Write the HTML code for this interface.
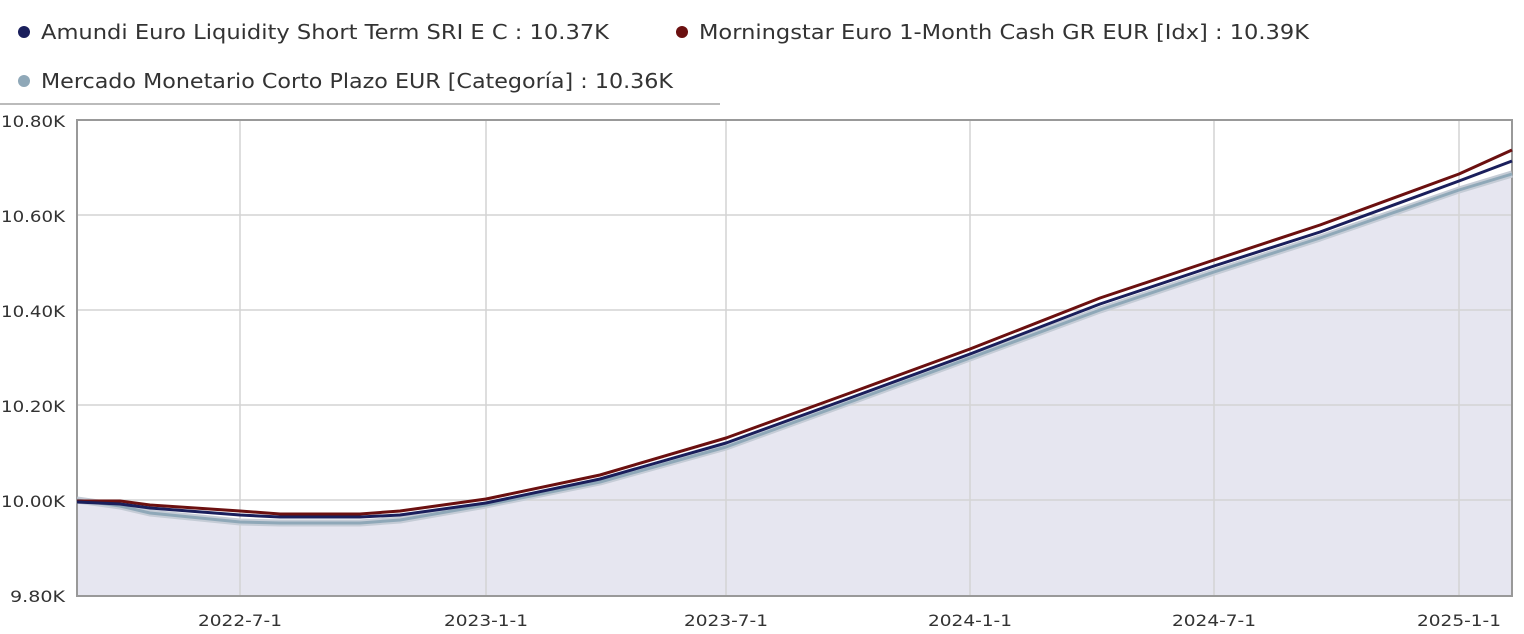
<!DOCTYPE html>
<html><head><meta charset="utf-8"><style>
body{margin:0;background:#fff;width:1524px;height:629px;overflow:hidden;font-family:"Liberation Sans","DejaVu Sans",sans-serif}
svg text{font-family:"DejaVu Sans","Liberation Sans",sans-serif;fill:#333}
</style></head><body>
<svg width="1524" height="629" viewBox="0 0 1524 629">
<g font-size="20">
<circle cx="24" cy="32" r="6" fill="#1a1f5c"/><text x="41" y="39" textLength="568" lengthAdjust="spacingAndGlyphs">Amundi Euro Liquidity Short Term SRI E C : 10.37K</text>
<circle cx="682" cy="32" r="6" fill="#6b1010"/><text x="699" y="39" textLength="610" lengthAdjust="spacingAndGlyphs">Morningstar Euro 1-Month Cash GR EUR [Idx] : 10.39K</text>
<circle cx="24" cy="81" r="6" fill="#8fa8b8"/><text x="41" y="88" textLength="632" lengthAdjust="spacingAndGlyphs">Mercado Monetario Corto Plazo EUR [Categoría] : 10.36K</text>
</g>
<line x1="0" y1="104" x2="720" y2="104" stroke="#bbb" stroke-width="2"/>
<path d="M77,500 L120,506 L150,513 L240,522 L280,523 L360,523 L400,520 L486,505 L600,482 L726,447 L850,402 L970,358 L1100,310 L1214,272 L1320,238 L1459,190 L1512,174 L1512,596 L77,596Z" fill="#e6e6f0"/>
<g stroke="#d4d4d4" stroke-width="1.5">
<line x1="77" y1="215" x2="1512" y2="215"/><line x1="77" y1="310" x2="1512" y2="310"/><line x1="77" y1="405" x2="1512" y2="405"/><line x1="77" y1="500" x2="1512" y2="500"/>
<line x1="240" y1="120" x2="240" y2="596"/><line x1="486" y1="120" x2="486" y2="596"/><line x1="726" y1="120" x2="726" y2="596"/><line x1="970" y1="120" x2="970" y2="596"/><line x1="1214" y1="120" x2="1214" y2="596"/><line x1="1459" y1="120" x2="1459" y2="596"/>
</g>
<rect x="77" y="120" width="1435" height="476" fill="none" stroke="#999" stroke-width="2"/>
<g fill="none" stroke-linejoin="round">
<path d="M77,500 L120,506 L150,513 L240,522 L280,523 L360,523 L400,520 L486,505 L600,482 L726,447 L850,402 L970,358 L1100,310 L1214,272 L1320,238 L1459,190 L1512,174" stroke="#c5ccd6" stroke-width="7"/>
<path d="M77,500 L120,506 L150,513 L240,522 L280,523 L360,523 L400,520 L486,505 L600,482 L726,447 L850,402 L970,358 L1100,310 L1214,272 L1320,238 L1459,190 L1512,174" stroke="#8fa8b8" stroke-width="3"/>
<path d="M77,501 L120,501 L150,505 L240,511 L280,514 L360,514 L400,511 L486,499 L600,475 L726,438 L850,393 L970,349 L1100,298 L1214,260 L1320,225 L1459,174 L1512,150" stroke="#6b1010" stroke-width="3"/>
<path d="M77,502 L120,504 L150,508 L240,515 L280,517 L360,517 L400,515 L486,503 L600,479 L726,443 L850,398 L970,354 L1100,304 L1214,266 L1320,232 L1459,181 L1512,161" stroke="#1a1f5c" stroke-width="3"/>
</g>
<g font-size="16" text-anchor="end">
<text x="65" y="127" textLength="64" lengthAdjust="spacingAndGlyphs">10.80K</text><text x="65" y="222" textLength="64" lengthAdjust="spacingAndGlyphs">10.60K</text><text x="65" y="317" textLength="64" lengthAdjust="spacingAndGlyphs">10.40K</text><text x="65" y="412" textLength="64" lengthAdjust="spacingAndGlyphs">10.20K</text><text x="65" y="507" textLength="64" lengthAdjust="spacingAndGlyphs">10.00K</text><text x="65" y="602" textLength="55" lengthAdjust="spacingAndGlyphs">9.80K</text>
</g>
<g font-size="16" text-anchor="middle">
<text x="240" y="626" textLength="84" lengthAdjust="spacingAndGlyphs">2022-7-1</text><text x="486" y="626" textLength="84" lengthAdjust="spacingAndGlyphs">2023-1-1</text><text x="726" y="626" textLength="84" lengthAdjust="spacingAndGlyphs">2023-7-1</text><text x="970" y="626" textLength="84" lengthAdjust="spacingAndGlyphs">2024-1-1</text><text x="1214" y="626" textLength="84" lengthAdjust="spacingAndGlyphs">2024-7-1</text><text x="1459" y="626" textLength="84" lengthAdjust="spacingAndGlyphs">2025-1-1</text>
</g>
</svg>
</body></html>
